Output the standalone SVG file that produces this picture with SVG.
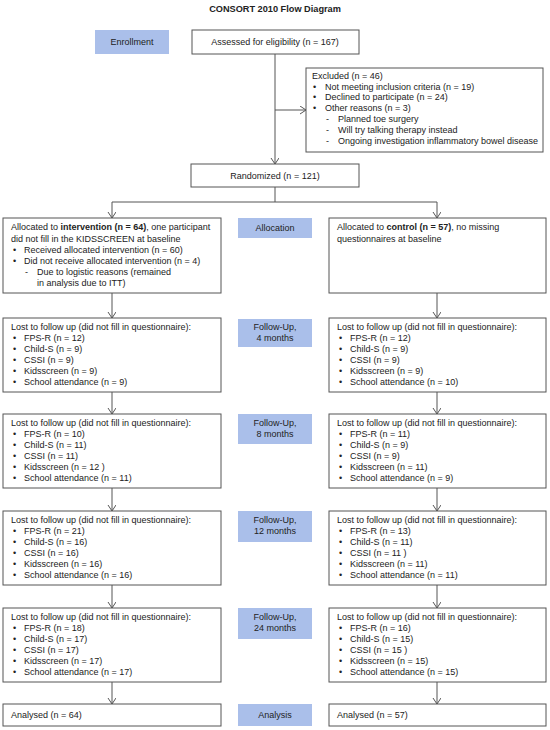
<svg xmlns="http://www.w3.org/2000/svg" width="550" height="730" viewBox="0 0 550 730">
<style>
text{font-family:"Liberation Sans",Arial,sans-serif;font-size:9px;fill:#222}
.t{font-weight:bold;font-size:9.2px}
.c{text-anchor:middle}
.b{font-weight:bold}
.box{fill:#fff;stroke:#555;stroke-width:1}
.lab{fill:#aabfea}
.con{fill:none;stroke:#555;stroke-width:1}
</style>
<defs>
<marker id="ah" markerUnits="userSpaceOnUse" markerWidth="8" markerHeight="10" refX="6" refY="4" orient="auto">
<path d="M0,0 L6,4 L0,8" fill="none" stroke="#555" stroke-width="1"/>
</marker>
</defs>
<rect width="550" height="730" fill="#fff"/>
<text class="t c" x="275" y="12">CONSORT 2010 Flow Diagram</text>

<g id="connectors" class="con">
<path d="M275,54 V164" marker-end="url(#ah)"/>
<path d="M275,110 H306" marker-end="url(#ah)"/>
<path d="M275,187 V202 M112,202 H437"/>
<path d="M112,202 V218" marker-end="url(#ah)"/>
<path d="M437,202 V218" marker-end="url(#ah)"/>
<path d="M112,293 V318" marker-end="url(#ah)"/>
<path d="M437,293 V318" marker-end="url(#ah)"/>
<path d="M112,392 V414" marker-end="url(#ah)"/>
<path d="M437,392 V414" marker-end="url(#ah)"/>
<path d="M112,488 V511" marker-end="url(#ah)"/>
<path d="M437,488 V511" marker-end="url(#ah)"/>
<path d="M112,585 V608" marker-end="url(#ah)"/>
<path d="M437,585 V608" marker-end="url(#ah)"/>
<path d="M112,682 V704" marker-end="url(#ah)"/>
<path d="M437,682 V704" marker-end="url(#ah)"/>
</g>

<g id="enrollment-label"><rect class="lab" x="95" y="30" width="74" height="24"/><text class="c" x="132" y="45">Enrollment</text></g>
<g id="assessed"><rect class="box" x="192" y="30" width="167" height="24"/><text class="c" x="275" y="45">Assessed for eligibility (n = 167)</text></g>

<g id="excluded"><rect class="box" x="306" y="68" width="237" height="84"/>
<text x="312" y="79">Excluded (n = 46)</text>
<text x="313" y="90">•</text><text x="325" y="90">Not meeting inclusion criteria (n = 19)</text>
<text x="313" y="100">•</text><text x="325" y="100">Declined to participate (n = 24)</text>
<text x="313" y="111">•</text><text x="325" y="111">Other reasons (n = 3)</text>
<text x="326" y="122">-</text><text x="338" y="122">Planned toe surgery</text>
<text x="326" y="133">-</text><text x="338" y="133">Will try talking therapy instead</text>
<text x="326" y="144">-</text><text x="338" y="144">Ongoing investigation inflammatory bowel disease</text>
</g>

<g id="randomized"><rect class="box" x="191" y="164" width="168" height="23"/><text class="c" x="275" y="178.5">Randomized (n = 121)</text></g>

<g id="alloc-intervention"><rect class="box" x="3" y="218" width="218" height="75"/>
<text x="11" y="230">Allocated to <tspan class="b">intervention (n = 64)</tspan>, one participant</text>
<text x="11" y="242">did not fill in the KIDSSCREEN at baseline</text>
<text x="13" y="253">•</text><text x="24" y="253">Received allocated intervention (n = 60)</text>
<text x="13" y="264">•</text><text x="24" y="264">Did not receive allocated intervention (n = 4)</text>
<text x="25" y="275">-</text><text x="37" y="275">Due to logistic reasons (remained</text>
<text x="37" y="286">in analysis due to ITT)</text>
</g>
<g id="allocation-label"><rect class="lab" x="238" y="218" width="74" height="20"/><text class="c" x="275" y="231">Allocation</text></g>
<g id="alloc-control"><rect class="box" x="329" y="218" width="217" height="75"/>
<text x="337" y="230">Allocated to <tspan class="b">control (n = 57)</tspan>, no missing</text>
<text x="337" y="242">questionnaires at baseline</text>
</g>

<g id="fu4-intervention"><rect class="box" x="3" y="318" width="218" height="74"/>
<text x="11" y="330">Lost to follow up (did not fill in questionnaire):</text>
<text x="13" y="341">•</text><text x="24" y="341">FPS-R (n = 12)</text>
<text x="13" y="352">•</text><text x="24" y="352">Child-S (n = 9)</text>
<text x="13" y="363">•</text><text x="24" y="363">CSSI (n = 9)</text>
<text x="13" y="374">•</text><text x="24" y="374">Kidsscreen (n = 9)</text>
<text x="13" y="385">•</text><text x="24" y="385">School attendance (n = 9)</text>
</g>
<g id="fu4-label"><rect class="lab" x="238" y="319" width="74" height="28"/><text class="c" x="275" y="330">Follow-Up,</text><text class="c" x="275" y="341">4 months</text></g>
<g id="fu4-control"><rect class="box" x="329" y="318" width="217" height="74"/>
<text x="337" y="330">Lost to follow up (did not fill in questionnaire):</text>
<text x="339" y="341">•</text><text x="350" y="341">FPS-R (n = 12)</text>
<text x="339" y="352">•</text><text x="350" y="352">Child-S (n = 9)</text>
<text x="339" y="363">•</text><text x="350" y="363">CSSI (n = 9)</text>
<text x="339" y="374">•</text><text x="350" y="374">Kidsscreen (n = 9)</text>
<text x="339" y="385">•</text><text x="350" y="385">School attendance (n = 10)</text>
</g>

<g id="fu8-intervention"><rect class="box" x="3" y="414" width="218" height="74"/>
<text x="11" y="426">Lost to follow up (did not fill in questionnaire):</text>
<text x="13" y="437">•</text><text x="24" y="437">FPS-R (n = 10)</text>
<text x="13" y="448">•</text><text x="24" y="448">Child-S (n = 11)</text>
<text x="13" y="459">•</text><text x="24" y="459">CSSI (n = 11)</text>
<text x="13" y="470">•</text><text x="24" y="470">Kidsscreen (n = 12 )</text>
<text x="13" y="481">•</text><text x="24" y="481">School attendance (n = 11)</text>
</g>
<g id="fu8-label"><rect class="lab" x="238" y="414" width="74" height="30"/><text class="c" x="275" y="426">Follow-Up,</text><text class="c" x="275" y="437">8 months</text></g>
<g id="fu8-control"><rect class="box" x="329" y="414" width="217" height="74"/>
<text x="337" y="426">Lost to follow up (did not fill in questionnaire):</text>
<text x="339" y="437">•</text><text x="350" y="437">FPS-R (n = 11)</text>
<text x="339" y="448">•</text><text x="350" y="448">Child-S (n = 9)</text>
<text x="339" y="459">•</text><text x="350" y="459">CSSI (n = 9)</text>
<text x="339" y="470">•</text><text x="350" y="470">Kidsscreen (n = 11)</text>
<text x="339" y="481">•</text><text x="350" y="481">School attendance (n = 9)</text>
</g>

<g id="fu12-intervention"><rect class="box" x="3" y="511" width="218" height="74"/>
<text x="11" y="523">Lost to follow up (did not fill in questionnaire):</text>
<text x="13" y="534">•</text><text x="24" y="534">FPS-R (n = 21)</text>
<text x="13" y="545">•</text><text x="24" y="545">Child-S (n = 16)</text>
<text x="13" y="556">•</text><text x="24" y="556">CSSI (n = 16)</text>
<text x="13" y="567">•</text><text x="24" y="567">Kidsscreen (n = 16)</text>
<text x="13" y="578">•</text><text x="24" y="578">School attendance (n = 16)</text>
</g>
<g id="fu12-label"><rect class="lab" x="238" y="511" width="74" height="31"/><text class="c" x="275" y="523">Follow-Up,</text><text class="c" x="275" y="534">12 months</text></g>
<g id="fu12-control"><rect class="box" x="329" y="511" width="217" height="74"/>
<text x="337" y="523">Lost to follow up (did not fill in questionnaire):</text>
<text x="339" y="534">•</text><text x="350" y="534">FPS-R (n = 13)</text>
<text x="339" y="545">•</text><text x="350" y="545">Child-S (n = 11)</text>
<text x="339" y="556">•</text><text x="350" y="556">CSSI (n = 11 )</text>
<text x="339" y="567">•</text><text x="350" y="567">Kidsscreen (n = 11)</text>
<text x="339" y="578">•</text><text x="350" y="578">School attendance (n = 11)</text>
</g>

<g id="fu24-intervention"><rect class="box" x="3" y="608" width="218" height="74"/>
<text x="11" y="620">Lost to follow up (did not fill in questionnaire):</text>
<text x="13" y="631">•</text><text x="24" y="631">FPS-R (n = 18)</text>
<text x="13" y="642">•</text><text x="24" y="642">Child-S (n = 17)</text>
<text x="13" y="653">•</text><text x="24" y="653">CSSI (n = 17)</text>
<text x="13" y="664">•</text><text x="24" y="664">Kidsscreen (n = 17)</text>
<text x="13" y="675">•</text><text x="24" y="675">School attendance (n = 17)</text>
</g>
<g id="fu24-label"><rect class="lab" x="238" y="608" width="74" height="31"/><text class="c" x="275" y="620">Follow-Up,</text><text class="c" x="275" y="631">24 months</text></g>
<g id="fu24-control"><rect class="box" x="329" y="608" width="217" height="74"/>
<text x="337" y="620">Lost to follow up (did not fill in questionnaire):</text>
<text x="339" y="631">•</text><text x="350" y="631">FPS-R (n = 16)</text>
<text x="339" y="642">•</text><text x="350" y="642">Child-S (n = 15)</text>
<text x="339" y="653">•</text><text x="350" y="653">CSSI (n = 15 )</text>
<text x="339" y="664">•</text><text x="350" y="664">Kidsscreen (n = 15)</text>
<text x="339" y="675">•</text><text x="350" y="675">School attendance (n = 15)</text>
</g>

<g id="analysed-intervention"><rect class="box" x="3" y="704" width="218" height="22"/><text x="11" y="718">Analysed (n = 64)</text></g>
<g id="analysis-label"><rect class="lab" x="238" y="704" width="74" height="22"/><text class="c" x="275" y="718">Analysis</text></g>
<g id="analysed-control"><rect class="box" x="329" y="704" width="217" height="22"/><text x="337" y="718">Analysed (n = 57)</text></g>
</svg>
